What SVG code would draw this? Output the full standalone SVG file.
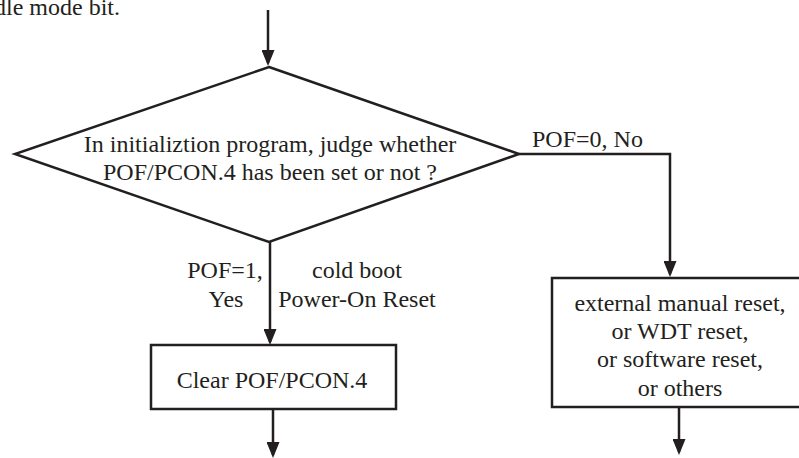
<svg xmlns="http://www.w3.org/2000/svg" width="799" height="458" viewBox="0 0 799 458">
  <style>
    .shape { fill: #ffffff; stroke: #231f20; stroke-width: 2.5; }
    .conn { fill: none; stroke: #231f20; stroke-width: 2.5; }
    text { font-family: "Liberation Serif", "Times New Roman", serif; font-size: 24px; fill: #231f20; }
    .c { text-anchor: middle; }
  </style>
  <defs>
    <marker id="arrow" markerUnits="userSpaceOnUse" markerWidth="17" markerHeight="13" refX="13" refY="6.5" orient="auto">
      <path d="M0,0 L16,6.5 L0,13 Z" fill="#231f20"/>
    </marker>
  </defs>
  <rect width="799" height="458" fill="#ffffff"/>

  <text x="120" y="15" text-anchor="end">dle mode bit.</text>

  <g id="decision">
    <polygon class="shape" points="269,67 519,154 269,242 15,154"/>
    <text class="c" x="270" y="152">In initializtion program, judge whether</text>
    <text class="c" x="270" y="180">POF/PCON.4 has been set or not ?</text>
  </g>

  <g id="clear-pof">
    <rect class="shape" x="151" y="345" width="245" height="64"/>
    <text class="c" x="272" y="388">Clear POF/PCON.4</text>
  </g>

  <g id="other-reset">
    <rect class="shape" x="552" y="278" width="258" height="129"/>
    <text class="c" x="680" y="311">external manual reset,</text>
    <text class="c" x="680" y="339">or WDT reset,</text>
    <text class="c" x="680" y="367">or software reset,</text>
    <text class="c" x="680" y="396">or others</text>
  </g>

  <g id="connectors">
    <line class="conn" x1="268" y1="10" x2="268" y2="63" marker-end="url(#arrow)"/>
    <line class="conn" x1="270" y1="242" x2="270" y2="342" marker-end="url(#arrow)"/>
    <polyline class="conn" points="519,154 670,154 670,274" marker-end="url(#arrow)"/>
    <line class="conn" x1="273" y1="409" x2="273" y2="455" marker-end="url(#arrow)"/>
    <line class="conn" x1="679" y1="407" x2="679" y2="452" marker-end="url(#arrow)"/>
  </g>

  <g id="labels">
    <text x="532" y="147">POF=0, No</text>
    <text class="c" x="225" y="278">POF=1,</text>
    <text class="c" x="226" y="307">Yes</text>
    <text class="c" x="357" y="278">cold boot</text>
    <text class="c" x="357" y="307">Power-On Reset</text>
  </g>
</svg>
